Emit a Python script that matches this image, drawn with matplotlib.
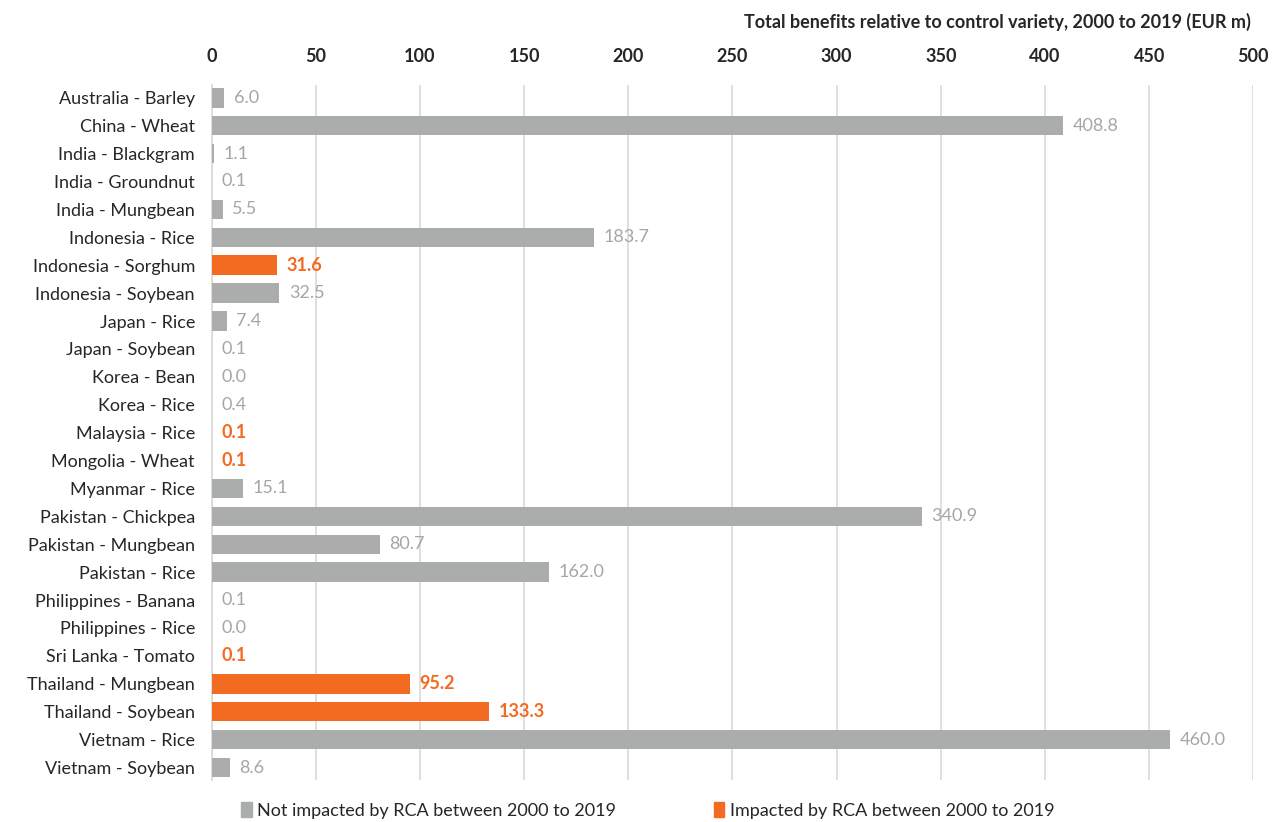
import matplotlib.pyplot as plt
from matplotlib.patches import Patch

# Данные
crops = ['Australia - Barley', 'China - Wheat', 'India - Blackgram', 'India - Groundnut',
         'India - Mungbean', 'Indonesia - Rice', 'Indonesia - Sorghum', 'Indonesia - Soybean',
         'Japan - Rice', 'Japan - Soybean', 'Korea - Bean', 'Korea - Rice', 'Malaysia - Rice',
         'Mongolia - Wheat', 'Myanmar - Rice', 'Pakistan - Chickpea', 'Pakistan - Mungbean',
         'Pakistan - Rice', 'Philippines - Banana', 'Philippines - Rice', 'Sri Lanka - Tomato',
         'Thailand - Mungbean', 'Thailand - Soybean', 'Vietnam - Rice', 'Vietnam - Soybean']
benefits = [6.0, 408.8, 1.1, 0.1, 5.5, 183.7, 31.6, 32.5, 7.4, 0.1, 0.0, 0.4, 0.1,
            0.1, 15.1, 340.9, 80.7, 162.0, 0.1, 0.0, 0.1, 95.2, 133.3, 460.0, 8.6]
impacted = [False, False, False, False, False, False, True, False, False, False, False, False, True,
            True, False, False, False, False, False, False, True, True, True, False, False]
ticks = [0, 50, 100, 150, 200, 250, 300, 350, 400, 450, 500]

gray = '#ABADAD'
orange = '#F26B21'
plt.rcParams['font.family'] = ['Lato', 'DejaVu Sans']

fig = plt.figure(figsize=(12.75, 8.22), dpi=100)
ax = fig.add_axes([0.166, 0.051, 0.817, 0.846])

y = list(range(len(crops)))
colors = [orange if i else gray for i in impacted]
ax.barh(y, benefits, height=0.7, color=colors, zorder=3)

# Подписи значений
for yi, v, imp in zip(y, benefits, impacted):
    ax.text(v + 4.5, yi, f'{v:.1f}', va='center', ha='left', fontsize=13,
            color=orange if imp else '#A6A6A6', fontweight='bold' if imp else 'normal')

ax.set_yticks(y)
ax.set_yticklabels(crops, fontsize=13, color='#262626')
ax.set_ylim(24.45, -0.47)
ax.set_xlim(0, 500)
ax.set_xticks(ticks)
ax.xaxis.tick_top()
ax.tick_params(axis='x', labelsize=13, length=0, pad=14, labelcolor='#262626')
ax.tick_params(axis='y', length=0, pad=12)
for lab in ax.get_xticklabels():
    lab.set_fontweight('bold')
ax.grid(axis='x', color='#D9D9D9', linewidth=1.2, zorder=0)
for s in ['top', 'right', 'bottom']:
    ax.spines[s].set_visible(False)
ax.spines['left'].set_color('#D9D9D9')
ax.spines['left'].set_linewidth(1.2)

fig.text(0.981, 0.973, 'Total benefits relative to control variety, 2000 to 2019 (EUR m)',
         ha='right', va='center', fontsize=13, fontweight='bold', color='#262626')

handles = [Patch(color=gray, label='Not impacted by RCA between 2000 to 2019'),
           Patch(color=orange, label='Impacted by RCA between 2000 to 2019')]
fig.legend(handles=handles, loc='center', bbox_to_anchor=(0.508, 0.014), ncol=2, frameon=False,
           fontsize=13, handlelength=0.6, handleheight=0.9, handletextpad=0.3, columnspacing=5.4,
           labelcolor='#262626')

fig.savefig('out.png', dpi=100)
